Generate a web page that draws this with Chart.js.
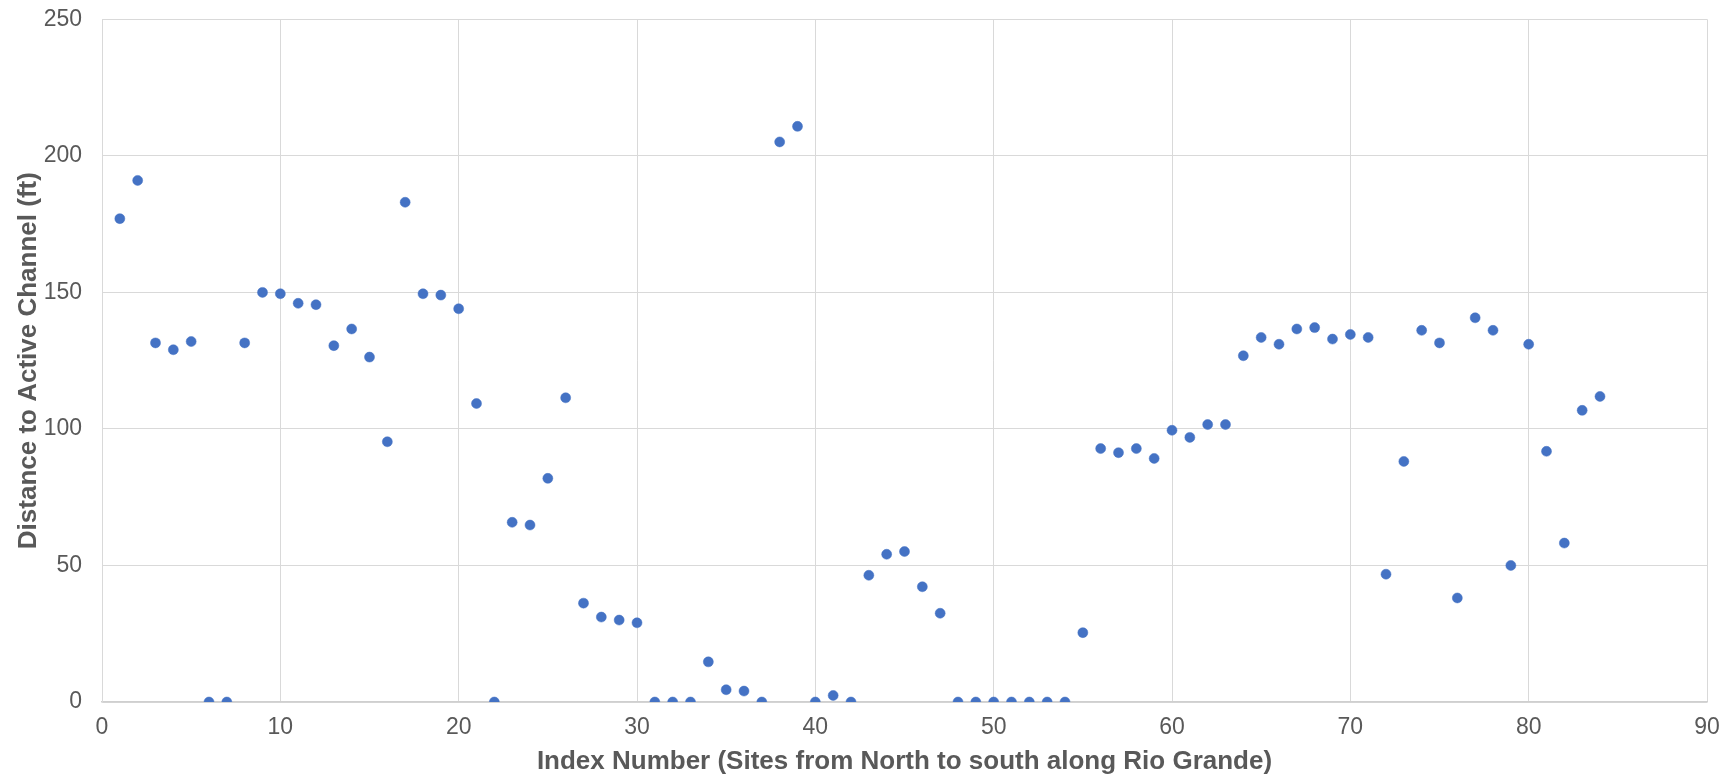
<!DOCTYPE html>
<html>
<head>
<meta charset="utf-8">
<script src="https://cdn.jsdelivr.net/npm/chart.js@4.4.1/dist/chart.umd.min.js"></script>
<style>
  html, body { margin: 0; padding: 0; background: #ffffff; }
  #wrap { width: 1722px; height: 778px; position: relative; }
</style>
</head>
<body>
<div id="wrap"><canvas id="chart"></canvas></div>
<script>
// Site index along the river, north to south
const siteIndex = [
  1, 2, 3, 4, 5, 6, 7, 8, 9, 10, 11, 12, 13, 14, 15, 16, 17, 18, 19, 20, 21,
  22, 23, 24, 25, 26, 27, 28, 29, 30, 31, 32, 33, 34, 35, 36, 37, 38, 39, 40, 41, 42,
  43, 44, 45, 46, 47, 48, 49, 50, 51, 52, 53, 54, 55, 56, 57, 58, 59, 60, 61, 62, 63,
  64, 65, 66, 67, 68, 69, 70, 71, 72, 73, 74, 75, 76, 77, 78, 79, 80, 81, 82, 83, 84
];

// Distance from each site to the active channel (ft)
const distanceFt = [
  177, 191, 131.5, 129, 132, 0, 0, 131.5, 150, 149.5, 146, 145.5, 130.5, 136.6, 126.3, 95.3, 183, 149.5, 149, 144, 109.3,
  0, 65.8, 64.8, 81.9, 111.4, 36.2, 31.1, 30, 29, 0, 0, 0, 14.7, 4.5, 4, 0, 205.1, 210.8, 0, 2.4, 0,
  46.4, 54.1, 55.1, 42.2, 32.5, 0, 0, 0, 0, 0, 0, 0, 25.4, 92.8, 91.3, 92.8, 89.2, 99.5, 96.9, 101.6, 101.6,
  126.8, 133.5, 131, 136.6, 137.1, 132.9, 134.6, 133.5, 46.8, 88.1, 136.1, 131.5, 38.1, 140.7, 136.1, 50, 131, 91.8, 58.2, 106.8, 111.9
];

// Axis ranges: [min, max, step]
const xTicks = [0, 90, 10];
const yTicks = [0, 250, 50];

const xTitle = 'Index Number (Sites from North to south along Rio Grande)';
const yTitle = 'Distance to Active Channel (ft)';

const points = siteIndex.map((x, i) => ({ x: x, y: distanceFt[i] }));

const gridColor = '#d9d9d9';
const textColor = '#595959';
const tickFont = { family: '"Liberation Sans", Arial, sans-serif', size: 23 };
const titleFont = { family: '"Liberation Sans", Arial, sans-serif', size: 26, weight: 'bold' };

new Chart(document.getElementById('chart'), {
  type: 'scatter',
  data: {
    datasets: [{
      data: points,
      backgroundColor: '#4472C4',
      borderColor: '#4472C4',
      borderWidth: 0.5,
      pointRadius: 5,
      pointHoverRadius: 5
    }]
  },
  options: {
    responsive: true,
    maintainAspectRatio: false,
    animation: false,
    layout: { padding: { top: 19.3, right: 15, bottom: 0, left: 0 } },
    plugins: {
      legend: { display: false },
      tooltip: { enabled: false }
    },
    scales: {
      x: {
        type: 'linear',
        min: xTicks[0],
        max: xTicks[1],
        ticks: { stepSize: xTicks[2], color: textColor, font: tickFont, padding: 12, maxRotation: 0 },
        grid: { color: gridColor, lineWidth: 1, drawTicks: false },
        border: { display: true, color: '#cfcfcf', width: 1.5 },
        title: { display: true, text: xTitle, color: textColor, font: titleFont, padding: { top: 0, bottom: 0.5 } },
        afterFit: (scale) => {
          scale.height = 76;
          scale.paddingLeft = 0;
          scale.paddingRight = 0;
        }
      },
      y: {
        type: 'linear',
        min: yTicks[0],
        max: yTicks[1],
        ticks: { stepSize: yTicks[2], color: textColor, font: tickFont, padding: 20 },
        grid: { color: gridColor, lineWidth: 1, drawTicks: false },
        border: { display: true, color: gridColor, width: 1 },
        title: { display: true, text: yTitle, color: textColor, font: titleFont, padding: { top: 13, bottom: 0 } },
        afterFit: (scale) => {
          scale.width = 102;
          scale.paddingTop = 0;
          scale.paddingBottom = 0;
        }
      }
    }
  }
});
</script>
</body>
</html>
